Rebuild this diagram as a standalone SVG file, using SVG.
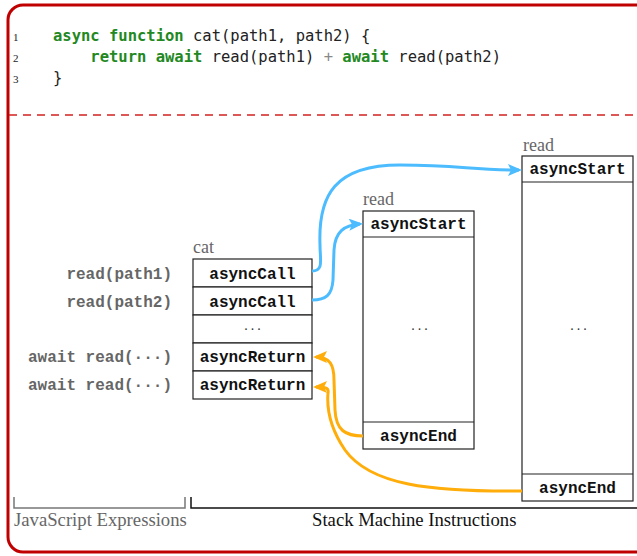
<svg xmlns="http://www.w3.org/2000/svg" width="637" height="556" viewBox="0 0 637 556">
<style>
.code{font-family:"DejaVu Sans Mono",monospace;font-size:15.5px;fill:#222}
.kw{fill:#228822;font-weight:bold}
.op{fill:#888}
.ln{font-family:"Liberation Serif",serif;font-size:11px;fill:#222}
.ins{font-family:"Liberation Mono",monospace;font-size:16px;font-weight:bold;fill:#111;text-anchor:middle}
.js{font-family:"Liberation Mono",monospace;font-size:16px;font-weight:bold;fill:#666;text-anchor:end}
.lbl{font-family:"Liberation Serif",serif;font-size:18px;fill:#666}
.cap{font-family:"Liberation Serif",serif;font-size:18.7px}
.dots{font-family:"Liberation Serif",serif;font-size:14px;fill:#333;text-anchor:middle;letter-spacing:3px}
.box{fill:#fff;stroke:#222;stroke-width:1.2}
.blue{fill:none;stroke:#4cbcff;stroke-width:3}
.orange{fill:none;stroke:#ffad0a;stroke-width:3}
</style>
<defs>
<marker id="ab" viewBox="0 0 14 12" refX="11" refY="6" markerWidth="14" markerHeight="12" markerUnits="userSpaceOnUse" orient="auto"><path d="M0,0 L14,6 L0,12 L3,6 z" fill="#4cbcff"/></marker>
<marker id="ao" viewBox="0 0 14 12" refX="11" refY="6" markerWidth="14" markerHeight="12" markerUnits="userSpaceOnUse" orient="auto"><path d="M0,0 L14,6 L0,12 L3,6 z" fill="#ffad0a"/></marker>
</defs>
<rect x="0" y="0" width="637" height="556" fill="#fff"/>
<rect id="frame" x="8" y="5" width="650" height="547" rx="15" ry="15" fill="none" stroke="#c00000" stroke-width="3"/>
<g id="code">
<text class="ln" x="13" y="41">1</text>
<text class="ln" x="13" y="62">2</text>
<text class="ln" x="13" y="83">3</text>
<text class="code" x="53" y="41"><tspan class="kw">async</tspan> <tspan class="kw">function</tspan> cat(path1, path2) {</text>
<text class="code" x="53" y="62" xml:space="preserve">    <tspan class="kw">return</tspan> <tspan class="kw">await</tspan> read(path1) <tspan class="op">+</tspan> <tspan class="kw">await</tspan> read(path2)</text>
<text class="code" x="53" y="83">}</text>
</g>
<line x1="9" y1="115" x2="637" y2="115" stroke="#d42020" stroke-width="1.3" stroke-dasharray="8,6"/>
<g id="js-labels">
<text class="js" x="172" y="279">read(path1)</text>
<text class="js" x="172" y="307">read(path2)</text>
<text class="js" x="172" y="362">await read(···)</text>
<text class="js" x="172" y="390">await read(···)</text>
</g>
<g id="cat">
<text class="lbl" x="193" y="253">cat</text>
<rect class="box" x="193" y="259" width="119" height="28"/>
<rect class="box" x="193" y="287" width="119" height="28"/>
<rect class="box" x="193" y="315" width="119" height="28"/>
<rect class="box" x="193" y="343" width="119" height="28"/>
<rect class="box" x="193" y="371" width="119" height="28"/>
<text class="ins" x="252.5" y="279">asyncCall</text>
<text class="ins" x="252.5" y="307">asyncCall</text>
<text class="dots" x="254" y="330">...</text>
<text class="ins" x="252.5" y="362">asyncReturn</text>
<text class="ins" x="252.5" y="390">asyncReturn</text>
</g>
<g id="read1">
<text class="lbl" x="363" y="205">read</text>
<rect class="box" x="363" y="211" width="111" height="238"/>
<line x1="363" y1="237" x2="474" y2="237" stroke="#222" stroke-width="1.2"/>
<line x1="363" y1="422" x2="474" y2="422" stroke="#222" stroke-width="1.2"/>
<text class="ins" x="418.5" y="229">asyncStart</text>
<text class="dots" x="421" y="330">...</text>
<text class="ins" x="418.5" y="441">asyncEnd</text>
</g>
<g id="read2">
<text class="lbl" x="523" y="151">read</text>
<rect class="box" x="522" y="156" width="111" height="345"/>
<line x1="522" y1="182" x2="633" y2="182" stroke="#222" stroke-width="1.2"/>
<line x1="522" y1="474" x2="633" y2="474" stroke="#222" stroke-width="1.2"/>
<text class="ins" x="577.5" y="174">asyncStart</text>
<text class="dots" x="580" y="330">...</text>
<text class="ins" x="577.5" y="493">asyncEnd</text>
</g>
<g id="connectors">
<path class="blue" marker-end="url(#ab)" d="M312,271 C324,271 320,260 320,245 C318,195 335,165 400,165 C460,165 470,170 519,170"/>
<path class="blue" marker-end="url(#ab)" d="M312,300 C326,300 332,295 333,280 L334,250 C335,232 344,225 360,224"/>
<path class="orange" marker-end="url(#ao)" d="M363,436 C345,436 336,430 335,410 L334,380 C334,365 330,357 316,357"/>
<path class="orange" marker-end="url(#ao)" d="M522,491 C430,492 370,485 345,450 C328,425 327,405 328,393 C329,388 326,387 316,387"/>
</g>
<g id="brackets">
<path d="M14,497 V508 H185 V497" fill="none" stroke="#777" stroke-width="1.5"/>
<path d="M191,497 V508 H640" fill="none" stroke="#111" stroke-width="1.5"/>
<text class="cap" x="14" y="526" fill="#666">JavaScript Expressions</text>
<text class="cap" x="312" y="526" fill="#111">Stack Machine Instructions</text>
</g>
</svg>
